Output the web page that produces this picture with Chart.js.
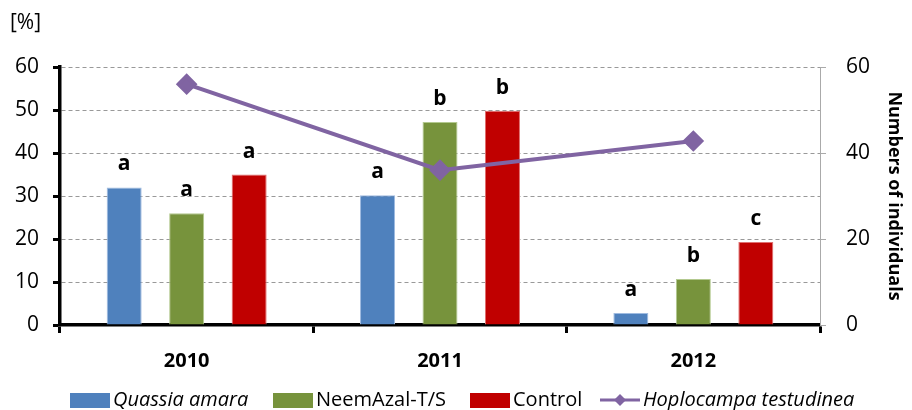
<!DOCTYPE html>
<html lang="en">
<head>
    <meta charset="UTF-8">
    <title>Hoplocampa testudinea damage</title>
    <script src="https://cdn.jsdelivr.net/npm/chart.js"></script>
    <style>
        body { margin: 0; background: #fff; }
        #wrap { width: 912px; height: 410px; }
    </style>
</head>
<body>
    <div id="wrap"><canvas id="chart" width="912" height="410"></canvas></div>

    <script>
        // Data
        const years = ["2010", "2011", "2012"];
        const quassia = [32, 30.2, 2.8];
        const neem = [26, 47.2, 10.7];
        const control = [35, 49.8, 19.3];
        const hoplocampa = [56, 36, 42.8];

        // significance letters per bar
        const quassiaLetters = ["a", "a", "a"];
        const neemLetters = ["a", "b", "b"];
        const controlLetters = ["a", "b", "c"];

        const leftTicks = [0, 10, 20, 30, 40, 50, 60];
        const rightTicks = [0, 20, 40, 60];

        const FONT = "'Open Sans', sans-serif";

        // letters above bars
        const letterPlugin = {
            id: "letters",
            afterDatasetsDraw(chart) {
                const ctx = chart.ctx;
                ctx.save();
                ctx.font = "bold 21px " + FONT;
                ctx.fillStyle = "#000";
                ctx.textAlign = "center";
                ctx.textBaseline = "alphabetic";
                chart.data.datasets.forEach((ds, i) => {
                    if (!ds.letters) return;
                    chart.getDatasetMeta(i).data.forEach((bar, j) => {
                        ctx.fillText(ds.letters[j], bar.x, bar.y - 17);
                    });
                });
                ctx.restore();
            }
        };

        // "[%]" label and bottom legend
        const extrasPlugin = {
            id: "extras",
            afterDraw(chart) {
                const ctx = chart.ctx;
                ctx.save();
                ctx.fillStyle = "#000";
                ctx.font = "21px " + FONT;
                ctx.textBaseline = "middle";
                ctx.textAlign = "left";
                ctx.fillText("[%]", 10, 23);

                const items = [
                    { text: "Quassia amara", color: "#4F81BD", italic: true, x: 70 },
                    { text: "NeemAzal-T/S", color: "#77933C", italic: false, x: 273 },
                    { text: "Control", color: "#C00000", italic: false, x: 470 },
                    { text: "Hoplocampa testudinea", color: "#8064A2", italic: true, x: 600, line: true }
                ];
                const y = 400;
                items.forEach(it => {
                    if (it.line) {
                        ctx.strokeStyle = it.color;
                        ctx.lineWidth = 3;
                        ctx.beginPath();
                        ctx.moveTo(it.x, y);
                        ctx.lineTo(it.x + 40, y);
                        ctx.stroke();
                        ctx.fillStyle = it.color;
                        ctx.beginPath();
                        ctx.moveTo(it.x + 20, y - 6);
                        ctx.lineTo(it.x + 26, y);
                        ctx.lineTo(it.x + 20, y + 6);
                        ctx.lineTo(it.x + 14, y);
                        ctx.closePath();
                        ctx.fill();
                    } else {
                        ctx.fillStyle = it.color;
                        ctx.fillRect(it.x, y - 7, 40, 15);
                    }
                    ctx.fillStyle = "#000";
                    ctx.font = (it.italic ? "italic " : "") + "20px " + FONT;
                    ctx.fillText(it.text, it.x + 43, y);
                });
                ctx.restore();
            }
        };

        const ctx = document.getElementById("chart").getContext("2d");
        new Chart(ctx, {
            type: "bar",
            data: {
                labels: years,
                datasets: [
                    {
                        type: "line",
                        label: "Hoplocampa testudinea",
                        data: hoplocampa,
                        yAxisID: "y1",
                        borderColor: "#8064A2",
                        backgroundColor: "#8064A2",
                        borderWidth: 4,
                        pointStyle: "rectRot",
                        pointRadius: 8,
                        tension: 0,
                        order: 0
                    },
                    {
                        label: "Quassia amara",
                        data: quassia,
                        letters: quassiaLetters,
                        backgroundColor: "#4F81BD",
                        borderColor: "#9fbbe0",
                        borderWidth: 1,
                        yAxisID: "y",
                        order: 1
                    },
                    {
                        label: "NeemAzal-T/S",
                        data: neem,
                        letters: neemLetters,
                        backgroundColor: "#77933C",
                        borderColor: "#b3c98f",
                        borderWidth: 1,
                        yAxisID: "y",
                        order: 1
                    },
                    {
                        label: "Control",
                        data: control,
                        letters: controlLetters,
                        backgroundColor: "#C00000",
                        borderColor: "#e07070",
                        borderWidth: 1,
                        yAxisID: "y",
                        order: 1
                    }
                ]
            },
            options: {
                responsive: false,
                animation: false,
                layout: { padding: { top: 67, left: 0, right: 0, bottom: 0 } },
                datasets: {
                    bar: { categoryPercentage: 0.74, barPercentage: 0.56 }
                },
                plugins: {
                    legend: { display: false },
                    tooltip: { enabled: false }
                },
                scales: {
                    x: {
                        offset: true,
                        grid: {
                            offset: true,
                            drawOnChartArea: false,
                            drawTicks: true,
                            tickLength: 8,
                            tickColor: "#000",
                            tickWidth: 3
                        },
                        border: { color: "#000", width: 3.5 },
                        ticks: {
                            color: "#000",
                            padding: 16,
                            font: { family: FONT, size: 20, weight: "bold" }
                        },
                        afterFit(scale) { scale.height = 85; }
                    },
                    y: {
                        position: "left",
                        min: 0,
                        max: 60,
                        afterBuildTicks(scale) {
                            scale.ticks = leftTicks.map(v => ({ value: v }));
                        },
                        grid: {
                            color: "#999",
                            lineWidth: 1,
                            tickColor: "#000",
                            tickWidth: 3,
                            tickLength: 7
                        },
                        border: { color: "#000", width: 3.5, dash: [4, 3] },
                        ticks: {
                            color: "#000",
                            padding: 14,
                            font: { family: FONT, size: 21 }
                        },
                        afterFit(scale) { scale.width = 60; }
                    },
                    y1: {
                        position: "right",
                        min: 0,
                        max: 60,
                        afterBuildTicks(scale) {
                            scale.ticks = rightTicks.map(v => ({ value: v }));
                        },
                        grid: {
                            drawOnChartArea: false,
                            tickColor: "#aaa",
                            tickLength: 6
                        },
                        border: { color: "#aaa", width: 1 },
                        ticks: {
                            color: "#000",
                            padding: 20,
                            font: { family: FONT, size: 21 }
                        },
                        title: {
                            display: true,
                            text: "Numbers of individuals",
                            color: "#000",
                            padding: { top: 7, bottom: 0 },
                            font: { family: FONT, size: 18, weight: "bold" }
                        },
                        afterFit(scale) { scale.width = 92; }
                    }
                }
            },
            plugins: [letterPlugin, extrasPlugin]
        });
    </script>
</body>
</html>
